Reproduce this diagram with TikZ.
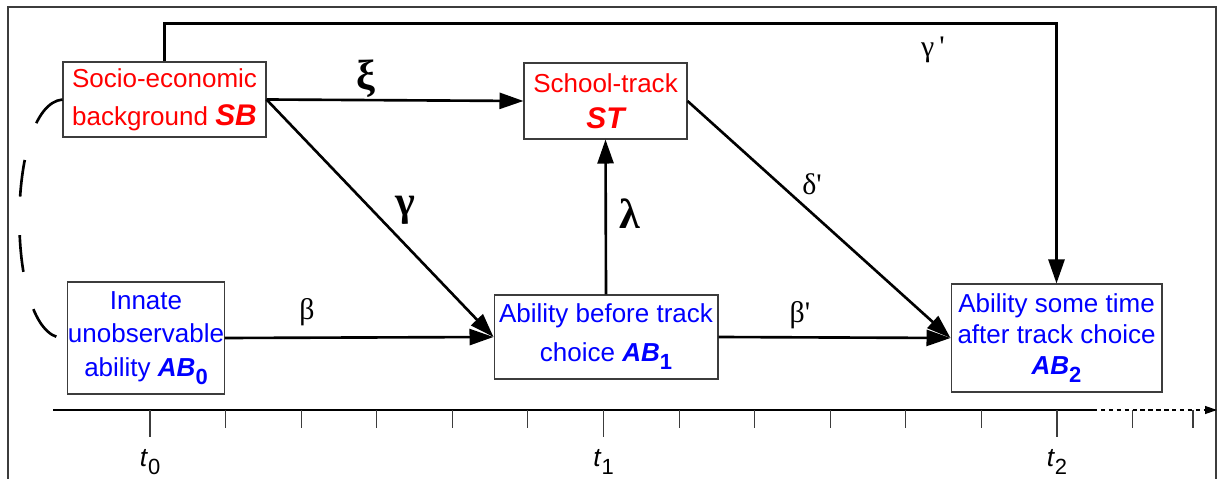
\documentclass[tikz,border=0pt]{standalone}
\usepackage{fontspec}
\setmainfont{Liberation Sans}
\newfontfamily\greekfont{Liberation Serif}
\usetikzlibrary{arrows.meta}
\definecolor{sbred}{RGB}{255,0,0}
\definecolor{abblue}{RGB}{0,0,255}
\definecolor{boxgray}{RGB}{60,60,60}
% bold italic variable with a lowered bold index
\newcommand{\abvar}[2]{\textbf{\textit{#1}}\raisebox{-0.32em}{\fontsize{12.5}{12.5}\selectfont\bfseries #2}}
\newcommand{\sbvar}[1]{{\fontsize{17}{17}\selectfont\bfseries\itshape #1}}

\begin{document}
\begin{tikzpicture}[x=0.02cm, y=-0.02cm,
  box/.style={draw=boxgray, line width=0.6pt, inner sep=0pt, align=center},
  conn/.style={line width=1.5pt, -{Triangle[length=0.48cm, width=0.32cm]}},
  biglbl/.style={font=\fontsize{24}{24}\selectfont\greekfont\bfseries},
  smalllbl/.style={font=\fontsize{17}{17}\selectfont\greekfont},
  tick/.style={line width=0.6pt, draw=boxgray}]
  \useasboundingbox (0,0) rectangle (1219,479);
  \draw[boxgray, line width=0.7pt] (8,479) -- (8,7) -- (1216,7) -- (1216,479);

  % boxes
  \node[box, minimum width=4.06cm, minimum height=1.5cm, text=sbred,
        font=\fontsize{14.8}{21.6}\selectfont] (SB) at (164.5,99.5)
        {Socio-economic\\background \sbvar{SB}};
  \node[box, minimum width=3.26cm, minimum height=1.52cm, text=sbred,
        font=\fontsize{14.8}{20.5}\selectfont] (ST) at (605.5,101)
        {School-track\\\sbvar{ST}};
  \node[box, minimum width=3.08cm, minimum height=2.24cm, text=abblue,
        font=\fontsize{14.8}{19}\selectfont] (AB0) at (146,338)
        {Innate\\unobservable\\ability \abvar{AB}{0}};
  \node[box, minimum width=4.48cm, minimum height=1.68cm, text=abblue,
        font=\fontsize{14.8}{22}\selectfont] (AB1) at (606,337)
        {Ability before track\\choice \abvar{AB}{1}};
  \node[box, minimum width=4.22cm, minimum height=2.16cm, text=abblue,
        font=\fontsize{14.8}{17.6}\selectfont] (AB2) at (1056.5,338)
        {Ability some time\\after track choice\\\abvar{AB}{2}};

  % paths
  \draw[conn] (SB.east) -- (ST.west);
  \draw[conn] (SB.east) -- (AB1.west);
  \draw[conn] (AB0.east) -- (AB1.west);
  \draw[conn] (AB1.north) -- (ST.south);
  \draw[conn] (ST.east) -- (AB2.west);
  \draw[conn] (AB1.east) -- (AB2.west);
  \draw[conn] (SB.north) -- ++(0,-38) -| (AB2.north);
  \draw[line width=1.5pt, dash pattern=on 21pt off 22pt]
    (SB.west) .. controls (5,105) and (5,335) .. ([xshift=-0.1cm]AB0.west);

  % coefficients
  \node[biglbl] (xi) at (366,79) {ξ};
  \node[biglbl] (gam) at (405,210) {γ};
  \node[biglbl] (lam) at (630,214) {λ};
  \node[smalllbl] (bet) at (307,312) {β};
  \node[smalllbl] (betp) at (800,315) {β'};
  \node[smalllbl] (delp) at (812,184) {δ'};
  \node[smalllbl] (gamp) at (933,50) {γ\,'};

  % time axis
  \coordinate (ax0) at (53,410);
  \coordinate (axdot) at (1093,410);
  \coordinate (ax1) at (1217,410);
  \draw[line width=0.7pt] (ax0) -- (axdot);
  \draw[line width=0.7pt, dash pattern=on 2.5pt off 2pt,
        -{Triangle[length=0.24cm, width=0.16cm]}] (axdot) -- (ax1);
  \foreach \k in {1,2,3,4,5,7,8,9,10,11,13}
    \draw[tick] ({150+\k*75.58},410) -- ++(0,18);
  \draw[tick] (1193,410) -- ++(0,18);
  \foreach \k/\i in {0/0,6/1,12/2} {
    \draw[tick] ({150+\k*75.58},410) -- ++(0,27);
    \node[font=\fontsize{15}{15}\selectfont] (t\i) at ({150+\k*75.58},462)
      {\textit{t}\raisebox{-0.3em}{\fontsize{12.5}{12.5}\selectfont\i}};
  }
\end{tikzpicture}
\end{document}
